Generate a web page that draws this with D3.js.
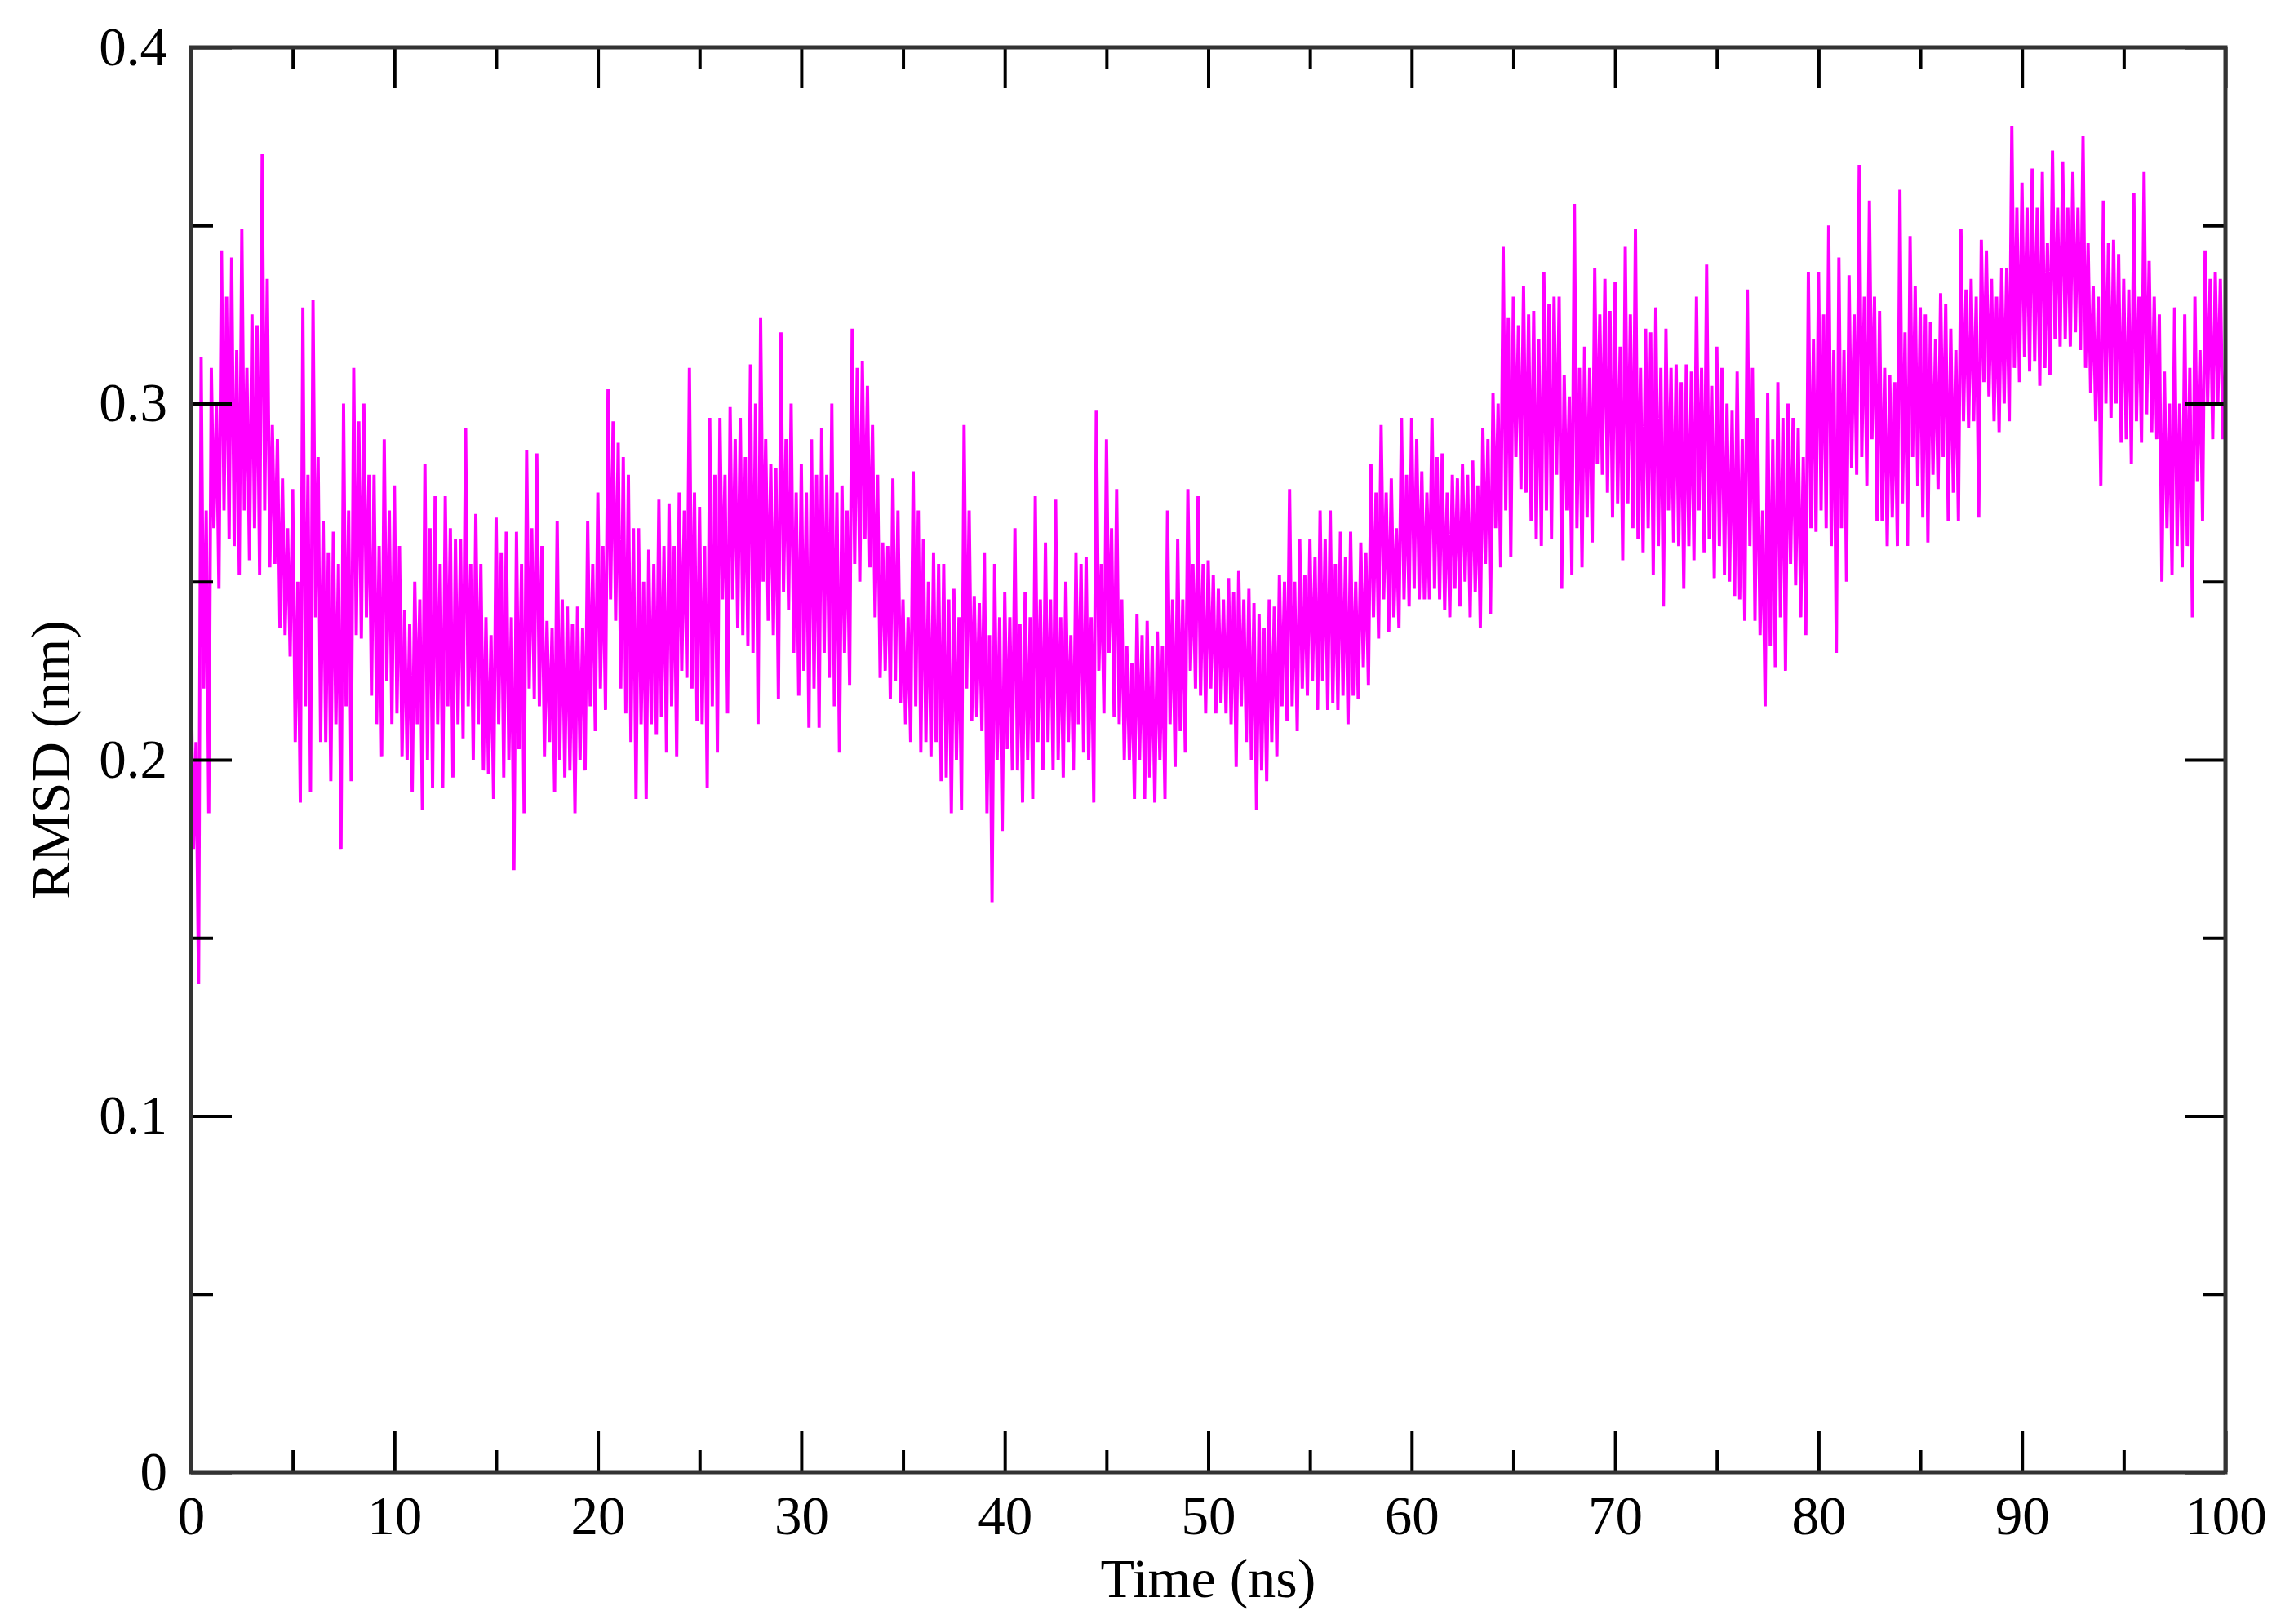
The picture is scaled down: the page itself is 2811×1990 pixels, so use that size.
<!DOCTYPE html>
<html>
<head>
<meta charset="utf-8">
<script src="https://cdn.jsdelivr.net/npm/d3@7"></script>
<style>
  html, body { margin: 0; padding: 0; background: #fff; }
  text { font-family: "Liberation Serif", "Times New Roman", serif; fill: #000; }
</style>
</head>
<body>
<div id="chart"></div>
<script>
// Axis ticks
var xMajorTicks = [0, 10, 20, 30, 40, 50, 60, 70, 80, 90, 100];
var xMinorTicks = [5, 15, 25, 35, 45, 55, 65, 75, 85, 95];
var yMajorTicks = [0, 0.1, 0.2, 0.3, 0.4];
var yMinorTicks = [0.05, 0.15, 0.25, 0.35];

// RMSD trace every 0.5 ns:
// extreme high / low of each slice and the top / bottom of its dense core
var binStart = d3.range(0, 100, 0.5);
var rmsdHigh = [
  0.226, 0.313, 0.310, 0.343, 0.341, 0.349, 0.325, 0.370, 0.294, 0.279,
  0.276, 0.327, 0.329, 0.267, 0.264, 0.300, 0.310, 0.300, 0.280, 0.290,
  0.277, 0.242, 0.250, 0.283, 0.274, 0.274, 0.262, 0.293, 0.269, 0.240,
  0.268, 0.264, 0.264, 0.287, 0.286, 0.239, 0.267, 0.243, 0.243, 0.267,
  0.275, 0.304, 0.289, 0.280, 0.265, 0.259, 0.273, 0.272, 0.275, 0.310,
  0.271, 0.296, 0.296, 0.299, 0.296, 0.311, 0.324, 0.283, 0.320, 0.300,
  0.283, 0.290, 0.293, 0.300, 0.277, 0.321, 0.312, 0.294, 0.261, 0.279,
  0.245, 0.281, 0.262, 0.258, 0.255, 0.248, 0.294, 0.246, 0.258, 0.255,
  0.247, 0.265, 0.247, 0.274, 0.261, 0.273, 0.250, 0.258, 0.257, 0.298,
  0.290, 0.276, 0.232, 0.241, 0.239, 0.236, 0.270, 0.262, 0.276, 0.274,
  0.256, 0.248, 0.251, 0.253, 0.248, 0.241, 0.245, 0.252, 0.276, 0.262,
  0.262, 0.270, 0.270, 0.264, 0.264, 0.261, 0.283, 0.294, 0.279, 0.296,
  0.296, 0.281, 0.296, 0.286, 0.280, 0.283, 0.284, 0.293, 0.303, 0.344,
  0.330, 0.333, 0.326, 0.337, 0.330, 0.308, 0.356, 0.316, 0.338, 0.335,
  0.334, 0.344, 0.349, 0.321, 0.327, 0.321, 0.311, 0.311, 0.330, 0.339,
  0.316, 0.300, 0.309, 0.332, 0.296, 0.303, 0.306, 0.300, 0.293, 0.337,
  0.337, 0.350, 0.341, 0.336, 0.367, 0.357, 0.326, 0.308, 0.360, 0.347,
  0.327, 0.323, 0.331, 0.321, 0.349, 0.335, 0.346, 0.335, 0.338, 0.378,
  0.362, 0.366, 0.365, 0.371, 0.368, 0.365, 0.375, 0.333, 0.357, 0.346,
  0.335, 0.359, 0.365, 0.330, 0.309, 0.327, 0.325, 0.330, 0.343, 0.337
];
var rmsdLow = [
  0.137, 0.185, 0.248, 0.262, 0.252, 0.256, 0.252, 0.254, 0.237, 0.229,
  0.188, 0.191, 0.205, 0.194, 0.175, 0.194, 0.234, 0.218, 0.201, 0.210,
  0.201, 0.191, 0.186, 0.192, 0.192, 0.195, 0.206, 0.200, 0.197, 0.189,
  0.195, 0.169, 0.185, 0.217, 0.201, 0.191, 0.195, 0.185, 0.197, 0.208,
  0.214, 0.239, 0.213, 0.189, 0.189, 0.207, 0.202, 0.201, 0.223, 0.211,
  0.192, 0.202, 0.213, 0.237, 0.232, 0.210, 0.239, 0.217, 0.242, 0.218,
  0.209, 0.209, 0.223, 0.202, 0.221, 0.250, 0.254, 0.223, 0.217, 0.216,
  0.205, 0.202, 0.201, 0.194, 0.185, 0.186, 0.211, 0.208, 0.160, 0.180,
  0.197, 0.188, 0.189, 0.197, 0.197, 0.195, 0.197, 0.202, 0.188, 0.213,
  0.212, 0.200, 0.189, 0.189, 0.188, 0.189, 0.198, 0.202, 0.220, 0.213,
  0.213, 0.213, 0.198, 0.205, 0.186, 0.194, 0.201, 0.211, 0.208, 0.218,
  0.214, 0.214, 0.214, 0.210, 0.217, 0.221, 0.234, 0.236, 0.237, 0.243,
  0.245, 0.245, 0.245, 0.240, 0.243, 0.240, 0.237, 0.241, 0.254, 0.257,
  0.276, 0.267, 0.260, 0.262, 0.248, 0.252, 0.254, 0.261, 0.280, 0.268,
  0.256, 0.265, 0.258, 0.252, 0.243, 0.261, 0.248, 0.256, 0.258, 0.251,
  0.252, 0.246, 0.239, 0.239, 0.215, 0.226, 0.225, 0.249, 0.235, 0.264,
  0.265, 0.230, 0.250, 0.280, 0.277, 0.267, 0.260, 0.260, 0.260, 0.277,
  0.261, 0.276, 0.267, 0.267, 0.293, 0.268, 0.302, 0.292, 0.295, 0.306,
  0.309, 0.305, 0.308, 0.316, 0.316, 0.315, 0.303, 0.277, 0.296, 0.289,
  0.283, 0.289, 0.292, 0.250, 0.252, 0.254, 0.240, 0.267, 0.290, 0.290
];
var coreTop = [
  0.205, 0.270, 0.300, 0.330, 0.315, 0.310, 0.322, 0.335, 0.290, 0.265,
  0.250, 0.280, 0.285, 0.258, 0.255, 0.270, 0.295, 0.280, 0.260, 0.270,
  0.260, 0.238, 0.245, 0.265, 0.255, 0.265, 0.262, 0.255, 0.255, 0.235,
  0.258, 0.240, 0.255, 0.265, 0.260, 0.237, 0.245, 0.238, 0.237, 0.255,
  0.260, 0.295, 0.285, 0.265, 0.250, 0.255, 0.260, 0.260, 0.270, 0.275,
  0.260, 0.280, 0.280, 0.290, 0.285, 0.300, 0.290, 0.282, 0.290, 0.275,
  0.275, 0.280, 0.280, 0.275, 0.270, 0.310, 0.305, 0.280, 0.260, 0.270,
  0.240, 0.270, 0.250, 0.255, 0.245, 0.240, 0.270, 0.244, 0.235, 0.240,
  0.240, 0.238, 0.240, 0.245, 0.245, 0.240, 0.235, 0.255, 0.240, 0.255,
  0.265, 0.245, 0.227, 0.235, 0.232, 0.232, 0.245, 0.245, 0.255, 0.255,
  0.252, 0.245, 0.247, 0.245, 0.244, 0.237, 0.243, 0.250, 0.250, 0.252,
  0.257, 0.262, 0.255, 0.257, 0.250, 0.258, 0.275, 0.275, 0.265, 0.280,
  0.290, 0.275, 0.285, 0.275, 0.279, 0.280, 0.277, 0.290, 0.300, 0.324,
  0.322, 0.325, 0.318, 0.328, 0.330, 0.302, 0.310, 0.310, 0.325, 0.326,
  0.316, 0.325, 0.310, 0.320, 0.310, 0.310, 0.306, 0.309, 0.310, 0.305,
  0.310, 0.298, 0.290, 0.310, 0.270, 0.290, 0.296, 0.296, 0.285, 0.318,
  0.325, 0.315, 0.315, 0.325, 0.330, 0.330, 0.310, 0.306, 0.320, 0.333,
  0.325, 0.318, 0.328, 0.315, 0.332, 0.330, 0.343, 0.330, 0.338, 0.355,
  0.355, 0.355, 0.345, 0.355, 0.355, 0.355, 0.345, 0.330, 0.345, 0.342,
  0.332, 0.330, 0.340, 0.325, 0.300, 0.300, 0.310, 0.315, 0.335, 0.335
];
var coreBottom = [
  0.175, 0.220, 0.265, 0.270, 0.260, 0.270, 0.265, 0.270, 0.255, 0.235,
  0.205, 0.215, 0.240, 0.205, 0.210, 0.215, 0.235, 0.240, 0.210, 0.222,
  0.213, 0.200, 0.210, 0.200, 0.210, 0.215, 0.210, 0.215, 0.210, 0.196,
  0.210, 0.200, 0.203, 0.220, 0.215, 0.205, 0.200, 0.197, 0.200, 0.215,
  0.220, 0.245, 0.220, 0.205, 0.210, 0.210, 0.212, 0.215, 0.225, 0.220,
  0.210, 0.215, 0.245, 0.245, 0.235, 0.230, 0.250, 0.235, 0.247, 0.230,
  0.225, 0.220, 0.230, 0.215, 0.230, 0.255, 0.262, 0.240, 0.225, 0.222,
  0.210, 0.215, 0.205, 0.205, 0.195, 0.200, 0.220, 0.212, 0.185, 0.200,
  0.203, 0.197, 0.200, 0.205, 0.205, 0.200, 0.205, 0.210, 0.200, 0.225,
  0.230, 0.210, 0.200, 0.200, 0.195, 0.200, 0.210, 0.208, 0.225, 0.218,
  0.220, 0.216, 0.210, 0.215, 0.200, 0.197, 0.205, 0.215, 0.215, 0.220,
  0.222, 0.222, 0.216, 0.218, 0.218, 0.226, 0.240, 0.245, 0.240, 0.245,
  0.248, 0.245, 0.248, 0.242, 0.248, 0.250, 0.247, 0.255, 0.265, 0.270,
  0.285, 0.275, 0.262, 0.270, 0.280, 0.270, 0.265, 0.268, 0.283, 0.275,
  0.272, 0.272, 0.262, 0.265, 0.260, 0.270, 0.260, 0.260, 0.270, 0.262,
  0.260, 0.250, 0.245, 0.260, 0.235, 0.232, 0.240, 0.255, 0.240, 0.265,
  0.270, 0.260, 0.265, 0.282, 0.285, 0.290, 0.267, 0.268, 0.272, 0.285,
  0.268, 0.280, 0.285, 0.275, 0.295, 0.295, 0.306, 0.295, 0.300, 0.310,
  0.313, 0.312, 0.310, 0.318, 0.318, 0.320, 0.310, 0.295, 0.300, 0.300,
  0.290, 0.295, 0.297, 0.290, 0.265, 0.260, 0.260, 0.278, 0.300, 0.300
];
var lastPoint = { t: 100, v: 0.310 };

// build the trace: within each 0.5 ns slice go high -> core bottom -> core top -> low
var trace = [];
binStart.forEach(function (t, i) {
    trace.push({ t: t, v: rmsdHigh[i] });
    trace.push({ t: t + 0.125, v: coreBottom[i] });
    trace.push({ t: t + 0.25, v: coreTop[i] });
    trace.push({ t: t + 0.375, v: rmsdLow[i] });
});
trace.push(lastPoint);

var W = 2811, H = 1990;
var margin = { top: 58, right: 84, bottom: 186, left: 234 },
    width = W - margin.left - margin.right,
    height = H - margin.top - margin.bottom;

var svg = d3.select("#chart").append("svg")
    .attr("width", W)
    .attr("height", H)
    .style("background", "#fff");

var g = svg.append("g")
    .attr("transform", "translate(" + margin.left + "," + margin.top + ")");

var x = d3.scaleLinear().domain([0, 100]).range([0, width]);
var y = d3.scaleLinear().domain([0, 0.4]).range([height, 0]);

// data line
var line = d3.line()
    .x(function (d) { return x(d.t); })
    .y(function (d) { return y(d.v); });

g.append("path")
    .datum(trace)
    .attr("fill", "none")
    .attr("stroke", "#ff00ff")
    .attr("stroke-width", 3.9)
    .attr("stroke-linejoin", "bevel")
    .attr("d", line);

var labelSize = 67;

function styleAxis(sel) {
    sel.select(".domain").remove();
    sel.selectAll(".tick line").attr("stroke", "#000").attr("stroke-width", 4);
    sel.selectAll(".tick text")
        .attr("font-size", labelSize)
        .attr("font-family", "Liberation Serif, serif")
        .attr("fill", "#000");
}

// bottom axis, ticks pointing in
g.append("g")
    .attr("transform", "translate(0," + height + ")")
    .call(d3.axisBottom(x).tickValues(xMajorTicks).tickSize(-50).tickPadding(28)
        .tickFormat(d3.format("d")))
    .call(styleAxis);
g.append("g")
    .attr("transform", "translate(0," + height + ")")
    .call(d3.axisBottom(x).tickValues(xMinorTicks).tickSize(-27).tickFormat(""))
    .call(styleAxis);

// top axis (ticks only)
g.append("g")
    .call(d3.axisTop(x).tickValues(xMajorTicks).tickSize(-50).tickFormat(""))
    .call(styleAxis);
g.append("g")
    .call(d3.axisTop(x).tickValues(xMinorTicks).tickSize(-27).tickFormat(""))
    .call(styleAxis);

// left axis
g.append("g")
    .call(d3.axisLeft(y).tickValues(yMajorTicks).tickSize(-50).tickPadding(29)
        .tickFormat(function (d) { return d === 0 ? "0" : d3.format(".1f")(d); }))
    .call(styleAxis);
g.append("g")
    .call(d3.axisLeft(y).tickValues(yMinorTicks).tickSize(-27).tickFormat(""))
    .call(styleAxis);

// right axis (ticks only)
g.append("g")
    .attr("transform", "translate(" + width + ",0)")
    .call(d3.axisRight(y).tickValues(yMajorTicks).tickSize(-50).tickFormat(""))
    .call(styleAxis);
g.append("g")
    .attr("transform", "translate(" + width + ",0)")
    .call(d3.axisRight(y).tickValues(yMinorTicks).tickSize(-27).tickFormat(""))
    .call(styleAxis);

// frame
g.append("rect")
    .attr("x", 0).attr("y", 0)
    .attr("width", width).attr("height", height)
    .attr("fill", "none")
    .attr("stroke", "#333")
    .attr("stroke-width", 5);

// axis titles
svg.append("text")
    .attr("x", margin.left + width / 2)
    .attr("y", 1957)
    .attr("text-anchor", "middle")
    .attr("font-size", 68)
    .text("Time (ns)");

svg.append("text")
    .attr("transform", "translate(85," + (margin.top + height / 2) + ") rotate(-90)")
    .attr("text-anchor", "middle")
    .attr("font-size", 68)
    .text("RMSD (nm)");
</script>
</body>
</html>
